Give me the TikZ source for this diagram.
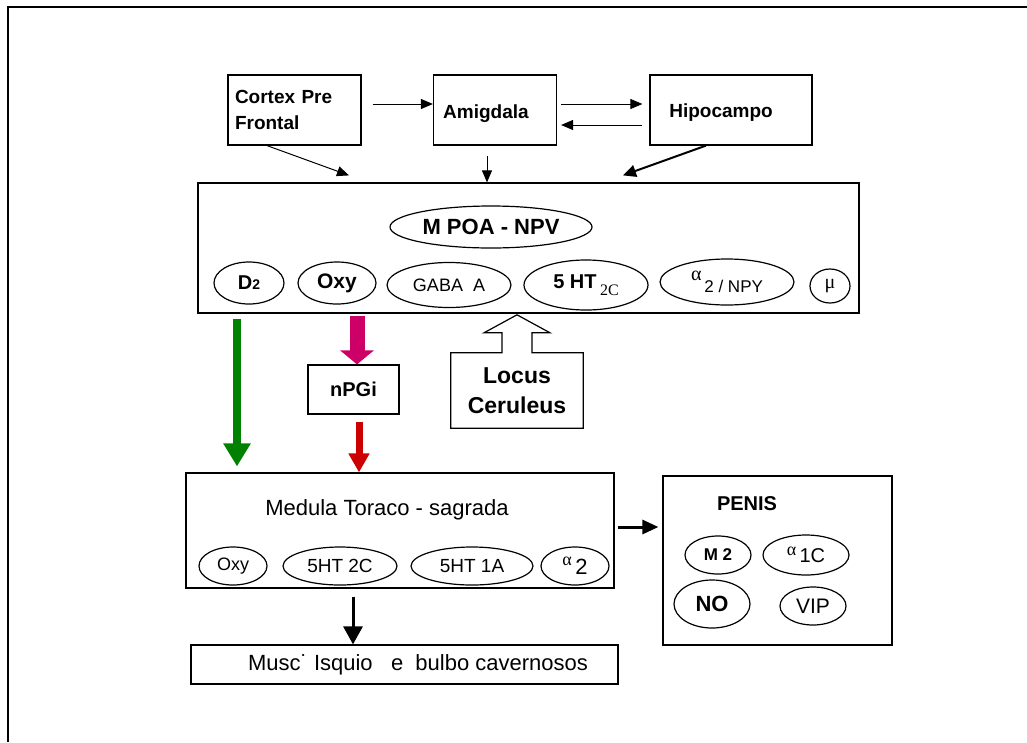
\documentclass[tikz,border=0pt]{standalone}
\usepackage{fontspec}
\setmainfont{Liberation Sans}
\newfontfamily\serifgr{Liberation Serif}
\usetikzlibrary{arrows.meta,shapes.geometric}
\newcommand\myfs[1]{\fontsize{#1}{#1}\selectfont}
\definecolor{gr}{RGB}{0,130,0}
\definecolor{mag}{RGB}{204,0,102}
\definecolor{rd}{RGB}{204,0,0}
\begin{document}
\begin{tikzpicture}[x=1pt,y=-1pt,
  box/.style={draw,line width=1.2pt,inner sep=0pt},
  ell/.style={draw,ellipse,line width=1.2pt,inner sep=0pt},
  arr/.style={line width=1pt,-{Triangle[length=12pt,width=10pt]}},
  barr/.style={line width=2pt,-{Triangle[length=13pt,width=12pt]}},
  tarr/.style={line width=3pt,-{Triangle[length=18pt,width=19pt]}},
  bf/.style={font=\bfseries\myfs{#1}},
  rg/.style={font=\myfs{#1}}]
\useasboundingbox (0,0) rectangle (1027,742);
\draw[line width=2.2pt] (1027,7) -- (8,7) -- (8,742);

% top boxes
\node[box,minimum width=133pt,minimum height=70pt,text width=119pt,align=left,
  font=\bfseries\fontsize{19}{26}\selectfont] (cortex) at (294.5,110) {Cortex Pre\\Frontal};
\node[box,minimum width=123pt,minimum height=70pt,
  label={[bf=19,xshift=-9pt,yshift=-4pt]center:Amigdala}] (amig) at (495,110) {};
\node[box,minimum width=162pt,minimum height=70pt,
  label={[bf=19,xshift=-10pt,yshift=-3pt]center:Hipocampo}] (hipo) at (731,110) {};

% main box
\node[box,minimum width=661pt,minimum height=130pt] (main) at (528.5,248) {};
\node[ell,minimum width=202pt,minimum height=42pt,bf=22] (mpoa) at (491,227) {M POA - NPV};
\node[ell,minimum width=70pt,minimum height=42pt,bf=20] (d2) at (249,283) {D{\myfs{14}2}};
\node[ell,minimum width=78pt,minimum height=42pt,bf=21] (oxy) at (337,283) {Oxy};
\node[ell,minimum width=124pt,minimum height=45pt,rg=18] (gaba) at (449,285) {GABA\ \ A};
\node[ell,minimum width=124pt,minimum height=50pt,bf=20] (htc) at (586,285)
  {\raisebox{4pt}{5 HT}\,\raisebox{-3pt}{\serifgr\mdseries\myfs{16}2C}};
\node[ell,minimum width=134pt,minimum height=46pt,rg=17] (npy) at (727,282)
  {\raisebox{6pt}{\serifgr\myfs{20}α}\raisebox{-6pt}{\,2 / NPY}};
\node[ell,minimum width=40pt,minimum height=34pt,font=\serifgr\myfs{20}] (mu) at (830,286) {μ};

% middle
\node[box,minimum width=91pt,minimum height=49pt,bf=20] (npgi) at (353.5,389.5) {nPGi};
\node[inner sep=0pt,minimum width=132pt,minimum height=75pt,align=center,
  font=\bfseries\fontsize{23}{30}\selectfont] (locus) at (517,390.5) {Locus\\Ceruleus};
\draw[line width=1.2pt,line join=miter] (locus.south west) -- (locus.north west)
  -- ([xshift=-15pt]locus.north) -- ([xshift=-15pt,yshift=20pt]locus.north)
  -- ([xshift=-33pt,yshift=20pt]locus.north) -- ([yshift=38pt]locus.north)
  -- ([xshift=33pt,yshift=20pt]locus.north) -- ([xshift=15pt,yshift=20pt]locus.north)
  -- ([xshift=15pt]locus.north) -- (locus.north east) -- (locus.south east) -- cycle;

% medula
\node[box,minimum width=428pt,minimum height=115pt,
  label={[rg=22,xshift=-13pt,yshift=20.5pt]center:Medula Toraco - sagrada}] (med) at (400,530.5) {};
\node[ell,minimum width=68pt,minimum height=38pt,rg=18] (oxyb) at (233,566) {Oxy};
\node[ell,minimum width=114pt,minimum height=38pt,rg=19] (htcb) at (340,566) {5HT 2C};
\node[ell,minimum width=122pt,minimum height=38pt,rg=19] (hta) at (472,566) {5HT 1A};
\node[ell,minimum width=68pt,minimum height=38pt,rg=22] (atwo) at (575,566)
  {\raisebox{5pt}{\serifgr\myfs{18}α}\,\raisebox{-4pt}{2}};

% penis
\node[box,minimum width=229pt,minimum height=169pt,
  label={[bf=20,xshift=-30.5pt,yshift=56.5pt]center:PENIS}] (penis) at (777.5,560.5) {};
\node[ell,minimum width=66pt,minimum height=38pt,bf=17] (mtwo) at (718,555) {M 2};
\node[ell,minimum width=86pt,minimum height=40pt,rg=20] (aonec) at (806,555)
  {\raisebox{4pt}{\serifgr\myfs{18}α}\,\raisebox{-3pt}{1C}};
\node[ell,minimum width=76pt,minimum height=48pt,bf=22] (no) at (712,604) {NO};
\node[ell,minimum width=66pt,minimum height=38pt,rg=21] (vip) at (813,606) {\raisebox{-4pt}{VIP}};

% musc
\node[box,minimum width=427pt,minimum height=39pt,
  label={[rg=22,xshift=13.5pt]center:Musc˙ Isquio\ \ \ e\ \ bulbo cavernosos}] (musc) at (404.5,664.5) {};

% connectors
\draw[arr] ([xshift=11pt,yshift=6pt]cortex.east) -- ([yshift=6pt]amig.west);
\draw[arr] ([xshift=4pt,yshift=6pt]amig.east) -- ([xshift=-7pt,yshift=6pt]hipo.west);
\draw[arr] ([xshift=-7pt,yshift=-15pt]hipo.west) -- ([xshift=4pt,yshift=-15pt]amig.east);
\draw[arr] ([xshift=-27.5pt]cortex.south) -- ([xshift=-179.5pt,yshift=7pt]main.north);
\draw[arr] ([xshift=-8pt,yshift=-10pt]amig.south) -- ([xshift=-41.5pt]main.north);
\draw[barr] ([xshift=-25pt]hipo.south) -- ([xshift=94.5pt,yshift=7pt]main.north);

\draw[gr,line width=8pt,-{Triangle[length=23pt,width=26pt]}]
  ([xshift=-291.5pt,yshift=-5pt]main.south) -- ([xshift=-163pt,yshift=6pt]med.north);
\draw[mag,line width=15pt,-{Triangle[length=14pt,width=33pt]}]
  ([xshift=-171.5pt,yshift=-2pt]main.south) -- ([xshift=3.5pt]npgi.north);
\draw[rd,line width=7pt,-{Triangle[length=19pt,width=20pt]}]
  ([xshift=5.5pt,yshift=-7pt]npgi.south) -- ([xshift=-41pt]med.north);
\draw[line width=3pt,-{Triangle[length=16pt,width=14pt]}]
  ([xshift=3pt,yshift=3.5pt]med.east) -- ([xshift=-4pt,yshift=33.5pt]penis.west);
\draw[tarr] ([xshift=-47pt,yshift=-8pt]med.south) -- ([xshift=-51.5pt]musc.north);
\end{tikzpicture}
\end{document}
